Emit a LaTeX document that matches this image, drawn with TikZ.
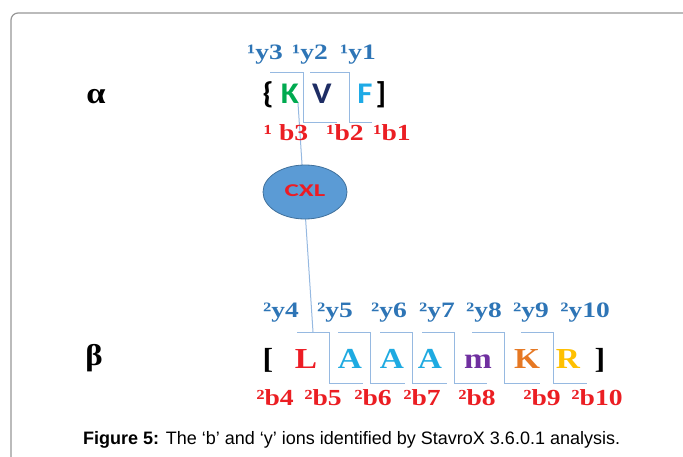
\documentclass[tikz,border=0pt]{standalone}
\usepackage{fontspec}
\usepackage{graphicx}
\usetikzlibrary{shapes.geometric}
\setmainfont{Liberation Serif}
\newfontfamily\carlitofont{Carlito}
\newfontfamily\capfont{Liberation Sans}
\definecolor{ylab}{RGB}{46,117,182}
\definecolor{blab}{RGB}{235,30,35}
\definecolor{brk}{RGB}{150,185,225}
\definecolor{kgreen}{RGB}{0,170,80}
\definecolor{vnavy}{RGB}{30,45,100}
\definecolor{fblue}{RGB}{30,170,230}
\definecolor{lred}{RGB}{237,28,36}
\definecolor{ablue}{RGB}{30,170,225}
\definecolor{mpurple}{RGB}{112,48,160}
\definecolor{korange}{RGB}{230,120,35}
\definecolor{rgold}{RGB}{255,192,0}
\definecolor{ellfill}{RGB}{91,155,213}
\definecolor{elldraw}{RGB}{65,113,156}
\definecolor{framegray}{RGB}{150,150,150}
\newcommand{\widen}[2]{\scalebox{#1}[1]{#2}}
\begin{document}
\begin{tikzpicture}[x=1pt,y=-1pt,
  lab/.style={anchor=base,inner sep=0pt,font=\fontsize{22}{24}\selectfont\bfseries},
  ylabel/.style={lab,text=ylab},
  blabel/.style={lab,text=blab,font=\fontsize{23}{25}\selectfont\bfseries},
  sanslet/.style={anchor=base,inner sep=0pt,font=\fontsize{30}{32}\selectfont\carlitofont\bfseries},
  serlet/.style={anchor=base,inner sep=0pt,font=\fontsize{29}{31}\selectfont\bfseries},
  brkline/.style={draw=brk,line width=1pt},
  greek/.style={inner sep=0pt,font=\fontsize{30}{32}\selectfont\bfseries}]
\useasboundingbox (0,0) rectangle (683,457);
\draw[framegray,line width=1.2pt,rounded corners=7pt] (11,460) -- (11,13) -- (686,13);

% Greek chain labels
\node[greek] (alpha) at (96,97) {\widen{1.15}{α}};
\node[greek] (beta) at (94,358) {\widen{1.1}{β}};

% crosslink line
\coordinate (xk) at (298,103);
\coordinate (xl) at (313,332);
\draw[brkline] (xk) -- (xl);
\node[ellipse,fill=ellfill,draw=elldraw,line width=0.8pt,minimum width=84pt,minimum height=54pt,inner sep=0pt] (cxl) at (305,192) {};
\node[inner sep=0pt,text=lred,font=\fontsize{18}{20}\selectfont\carlitofont\bfseries] (cxltext) at (305,191) {\widen{1.5}{CXL}};

% alpha brackets
\draw[brkline] (270,73) -- (303,73) -- (303,123) -- (337,123);
\draw[brkline] (310,73) -- (349,73) -- (349,123) -- (372,123);

% alpha sequence
\node[sanslet,text=black] (lbr) at (268,104) {\widen{1.1}{\{}};
\node[sanslet,text=kgreen] (ak) at (290,104) {\widen{1.1}{K}};
\node[sanslet,text=vnavy] (av) at (322,104) {\widen{1.1}{V}};
\node[sanslet,text=fblue] (af) at (365,104) {\widen{1.1}{F}};
\node[sanslet,text=black] (rbr) at (381,104) {\widen{1.1}{]}};

\node[ylabel] (y3) at (265,60) {\widen{1.25}{¹y3}};
\node[ylabel] (y2) at (310,60) {\widen{1.25}{¹y2}};
\node[ylabel] (y1) at (358,60) {\widen{1.25}{¹y1}};
\node[blabel] (b3) at (286,141) {\widen{1.2}{¹ b3}};
\node[blabel] (b2) at (345,141) {\widen{1.2}{¹b2}};
\node[blabel] (b1) at (392,141) {\widen{1.2}{¹b1}};

% beta brackets
\foreach \v/\e in {329/363,370/405,412/447,454/487,504/540,553/587}{
  \draw[brkline] (\v-32,332) -- (\v,332) -- (\v,383) -- (\e,383);
}

% beta sequence
\node[serlet,text=black] (blbr) at (268,368) {\widen{1.1}{[}};
\node[serlet,text=lred] (bL) at (306,368) {\widen{1.15}{L}};
\node[serlet,text=ablue] (bA1) at (350,368) {\widen{1.15}{A}};
\node[serlet,text=ablue] (bA2) at (392,368) {\widen{1.15}{A}};
\node[serlet,text=ablue] (bA3) at (430,368) {\widen{1.15}{A}};
\node[serlet,text=mpurple] (bm) at (478,368) {\widen{1.15}{m}};
\node[serlet,text=korange] (bK) at (527,368) {\widen{1.15}{K}};
\node[serlet,text=rgold] (bR) at (568,368) {\widen{1.15}{R}};
\node[serlet,text=black] (brbr) at (600,368) {\widen{1.1}{]}};

\node[ylabel] (y4) at (281,317) {\widen{1.25}{²y4}};
\node[ylabel] (y5) at (335,317) {\widen{1.25}{²y5}};
\node[ylabel] (y6) at (389,317) {\widen{1.25}{²y6}};
\node[ylabel] (y7) at (437,317) {\widen{1.25}{²y7}};
\node[ylabel] (y8) at (484,317) {\widen{1.25}{²y8}};
\node[ylabel] (y9) at (531,317) {\widen{1.25}{²y9}};
\node[ylabel] (y10) at (585,317) {\widen{1.25}{²y10}};

\node[blabel] (b4) at (275,405) {\widen{1.2}{²b4}};
\node[blabel] (b5) at (323,405) {\widen{1.2}{²b5}};
\node[blabel] (b6) at (373,405) {\widen{1.2}{²b6}};
\node[blabel] (b7) at (422,405) {\widen{1.2}{²b7}};
\node[blabel] (b8) at (477,405) {\widen{1.2}{²b8}};
\node[blabel] (b9) at (542,405) {\widen{1.2}{²b9}};
\node[blabel] (b10) at (597,405) {\widen{1.2}{²b10}};

% caption
\node[anchor=base west,inner sep=0pt,font=\fontsize{18}{20}\selectfont\capfont] (cap) at (83,444)
  {\textbf{Figure 5:} The ‘b’ and ‘y’ ions identified by StavroX 3.6.0.1 analysis.};
\end{tikzpicture}
\end{document}
